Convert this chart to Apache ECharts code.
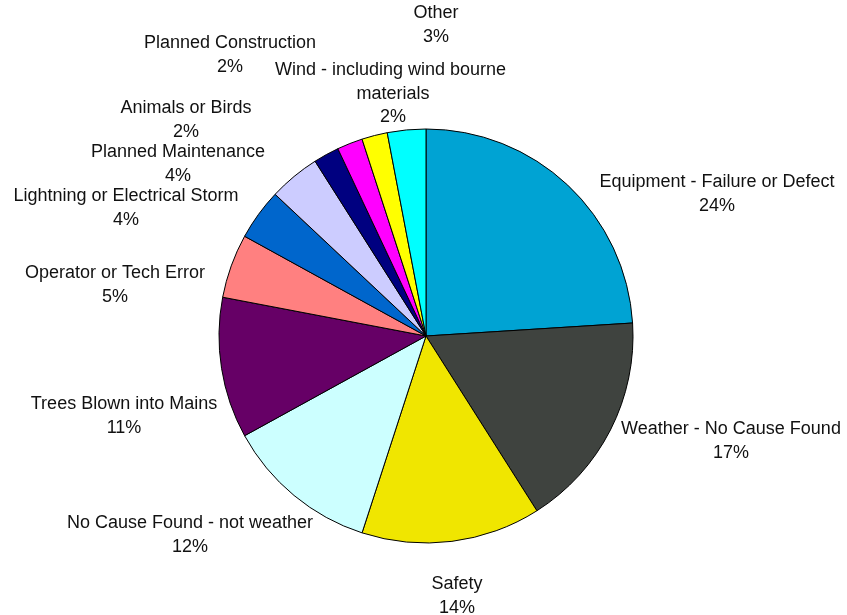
<!DOCTYPE html>
<html>
<head>
<meta charset="utf-8">
<script src="https://cdn.jsdelivr.net/npm/echarts@6/dist/echarts.min.js"></script>
<style>
  html, body { margin: 0; padding: 0; background: #ffffff; }
  #chart { width: 847px; height: 615px; }
</style>
</head>
<body>
<div id="chart"></div>
<script>
// Outage causes, share of total (%)
const causes = [
  'Equipment - Failure or Defect',
  'Weather - No Cause Found',
  'Safety',
  'No Cause Found - not weather',
  'Trees Blown into Mains',
  'Operator or Tech Error',
  'Lightning or Electrical Storm',
  'Planned Maintenance',
  'Animals or Birds',
  'Planned Construction',
  'Wind - including wind bourne materials',
  'Other'
];
const shares = [24, 17, 14, 12, 11, 5, 4, 4, 2, 2, 2, 3];

// Slice fills, in the order of the causes
const sliceColors = [
  '#00A3D3', '#3F433F', '#F0E600', '#CCFFFF', '#660066', '#FF8080',
  '#0066CC', '#CCCCFF', '#000080', '#FF00FF', '#FFFF00', '#00FFFF'
];

// Where each label block is centred (px), set around the pie
const labelSpots = [
  [717, 194], [731, 441], [457, 596], [190, 535], [124, 416], [115, 285],
  [126, 208], [178, 164], [186, 120], [230, 55], [393, 94], [436, 25]
];

const chart = echarts.init(document.getElementById('chart'), null, { renderer: 'canvas' });

const data = causes.map((name, i) => {
  const item = { name: name, value: shares[i], itemStyle: { color: sliceColors[i] } };
  if (i === 10) item.label = { width: 245, overflow: 'break' };
  return item;
});

chart.setOption({
  backgroundColor: '#ffffff',
  animation: false,
  series: [{
    type: 'pie',
    center: [426, 336],
    radius: 207,
    startAngle: 90,
    clockwise: true,
    avoidLabelOverlap: false,
    data: data,
    itemStyle: { borderColor: '#000000', borderWidth: 1 },
    label: {
      show: true,
      position: 'outside',
      fontFamily: '"Liberation Sans", Arial, sans-serif',
      fontSize: 18,
      lineHeight: 23.5,
      color: '#111111',
      align: 'center',
      formatter: p => p.name + '\n' + Math.round(p.percent) + '%'
    },
    labelLine: { show: false },
    labelLayout: params => {
      const s = labelSpots[params.dataIndex];
      return { x: s[0], y: s[1], align: 'center', verticalAlign: 'middle' };
    },
    emphasis: { disabled: true }
  }]
});
</script>
</body>
</html>
